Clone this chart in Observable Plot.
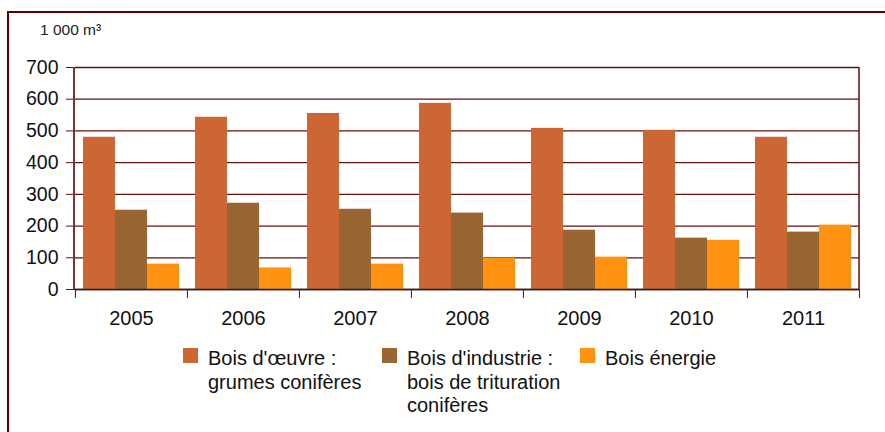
<!DOCTYPE html>
<html><head><meta charset="utf-8">
<script src="https://cdn.jsdelivr.net/npm/d3@7"></script>
<script src="https://cdn.jsdelivr.net/npm/@observablehq/plot@0.6"></script>
<style>
body{margin:0;background:#fff;font-family:"Liberation Sans",Arial,sans-serif;}
#wrap{position:relative;width:885px;height:432px;overflow:hidden;background:#fff;}
#frame{position:absolute;left:7px;top:11px;width:900px;height:450px;border:2px solid #5c0000;}
#unit{position:absolute;left:40px;top:21px;font-size:15.5px;color:#222;}
#chart{position:absolute;left:0;top:0;}
.leg{position:absolute;top:347px;font-size:20px;line-height:23.5px;color:#111;}
.sw{position:absolute;left:0;top:1px;width:15px;height:15px;}
.txt{margin-left:25px;white-space:nowrap;}
</style></head>
<body>
<div id="wrap">
  <div id="frame"></div>
  <div id="unit">1 000 m³</div>
  <div id="chart"></div>
  <div id="legend"></div>
</div>
<script>
const years = ["2005","2006","2007","2008","2009","2010","2011"];
const series = ["Bois d'œuvre : grumes conifères", "Bois d'industrie : bois de trituration conifères", "Bois énergie"];
const legendLines = [["Bois d'œuvre :", "grumes conifères"], ["Bois d'industrie :", "bois de trituration", "conifères"], ["Bois énergie"]];
const oeuvre    = [480, 543, 555, 587, 508, 502, 480];
const industrie = [250, 272, 253, 241, 187, 162, 181];
const energie   = [80, 68, 80, 99, 102, 155, 203];
const yTicks = [0, 100, 200, 300, 400, 500, 600, 700];
const colors = ["#CC6633", "#996633", "#FF9211"];

const valuesBySeries = [oeuvre, industrie, energie];
const data = [];
years.forEach((yr, i) => series.forEach((s, j) => data.push({year: yr, series: s, value: valuesBySeries[j][i]})));

const W = 885, H = 340, mL = 74, mR = 26, mT = 67, mB = 51;
const step = (W - mL - mR) / years.length;

const chart = Plot.plot({
  width: W, height: H,
  marginTop: mT, marginBottom: mB, marginLeft: mL, marginRight: mR,
  style: {fontFamily: "'Liberation Sans', Arial, sans-serif", fontSize: "20px", color: "#111", background: "transparent", overflow: "visible"},
  fx: {domain: years, padding: 0, label: null},
  x: {domain: series, paddingInner: 0, paddingOuter: 0.223, axis: null},
  y: {domain: [0, 700], axis: null},
  color: {domain: series, range: colors},
  marks: [
    Plot.ruleY(yTicks, {stroke: "#650d0d", strokeWidth: 1.3}),
    Plot.barY(data, {fx: "year", x: "series", y: "value", fill: "series"}),
    Plot.ruleY([0], {stroke: "#222", strokeWidth: 1.3}),
    Plot.axisY({ticks: yTicks, tickSize: 9, tickPadding: 8, stroke: "#650d0d", fontSize: 19.5, label: null, tickFormat: d => String(d)}),
    Plot.axisFx({anchor: "bottom", tickSize: 0, tickPadding: 21, fontSize: 20, label: null}),
    Plot.axisFx({anchor: "bottom", tickSize: 9, tickFormat: () => "", label: null, dx: -step / 2, stroke: "#222"}),
    Plot.axisFx({anchor: "bottom", ticks: [years[years.length - 1]], tickSize: 9, tickFormat: () => "", label: null, dx: step / 2, stroke: "#222"})
  ]
});
document.getElementById("chart").appendChild(chart);

// plot-area side borders drawn from Plot's y scale
const yr = chart.scale("y").range;
const svg = d3.select(chart);
svg.append("line").attr("x1", mL).attr("x2", mL).attr("y1", yr[0]).attr("y2", yr[1]).attr("stroke", "#7a3434").attr("stroke-width", 2);
svg.append("line").attr("x1", W - mR).attr("x2", W - mR).attr("y1", yr[0]).attr("y2", yr[1]).attr("stroke", "#650d0d").attr("stroke-width", 1.5);

// legend
const legLeft = [183, 382, 580];
const leg = document.getElementById("legend");
series.forEach((s, j) => {
  const d = document.createElement("div");
  d.className = "leg";
  d.style.left = legLeft[j] + "px";
  d.innerHTML = `<span class="sw" style="background:${colors[j]}"></span><div class="txt">${legendLines[j].join("<br>")}</div>`;
  leg.appendChild(d);
});
</script>
</body></html>
